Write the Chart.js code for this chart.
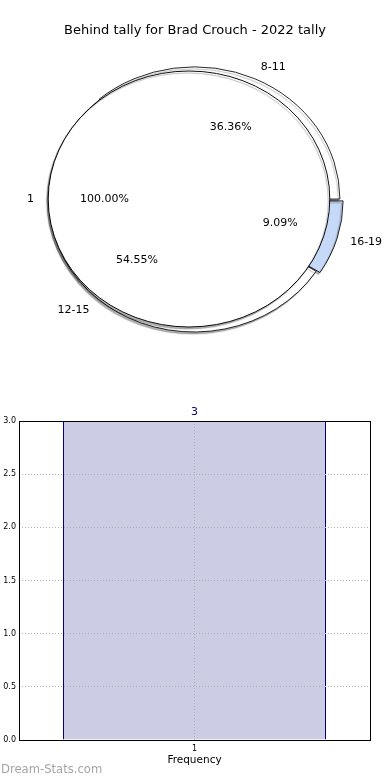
<!DOCTYPE html>
<html>
<head>
<meta charset="utf-8">
<script src="https://cdn.jsdelivr.net/npm/chart.js@4.4.0/dist/chart.umd.min.js"></script>
<style>
  body { margin: 0; background: #fff; width: 390px; height: 780px; position: relative; overflow: hidden; font-family: "DejaVu Sans", sans-serif; }
  #title { position: absolute; left: 0; top: 21px; width: 390px; text-align: center; font-size: 13px; line-height: 18px; color: #000; }
  #pieChart { position: absolute; left: 0; top: 0; }
  #barChart { position: absolute; left: 0; top: 380px; }
  #mark { position: absolute; left: 1px; top: 762px; font-size: 11.6px; color: #a4a4a4; }
</style>
</head>
<body>
<canvas id="pieChart" width="390" height="380"></canvas>
<div id="title"></div>
<canvas id="barChart" width="390" height="400"></canvas>
<div id="mark">Dream-Stats.com</div>
<script>
// data
const titleText = "Behind tally for Brad Crouch - 2022 tally";
const behindLabels = ["1"];
const behindCounts = [3];
const rangeLabels = ["8-11", "12-15", "16-19"];
const rangeCounts = [4, 6, 1];
const yMax = 3;
const yStep = 0.5;

// styles
const rangeColors = ["#ffffff", "#ffffff", "#c6d9f8"];
const rangeExplode = [4, 0, 10];
const outerShift = [5, 1];
const stretchX = 1.1;
const font = "DejaVu Sans";

document.getElementById("title").textContent = titleText;

// chart.js goes clockwise, the original goes the other way
const ringLabels = rangeLabels.slice().reverse();
const ringCounts = rangeCounts.slice().reverse();
const ringColors = rangeColors.slice().reverse();
const ringExplode = rangeExplode.slice().reverse();

const ellipsePie = {
    id: "ellipsePie",
    afterDatasetsUpdate(chart) {
        // outer pie is a full pie under the inner one
        chart.getDatasetMeta(0).data.forEach((arc) => { arc.innerRadius = 0; });
    },
    beforeDatasetsDraw(chart) {
        const ctx = chart.ctx;
        const a = chart.chartArea;
        const cx = (a.left + a.right) / 2, cy = (a.top + a.bottom) / 2;
        ctx.save();
        ctx.translate(cx, cy);
        ctx.scale(stretchX, 1);
        ctx.translate(-cx, -cy);
        ctx.shadowColor = "rgba(0,0,0,0.3)";
        ctx.shadowOffsetX = -1.5;
        ctx.shadowOffsetY = 2;
        ctx.shadowBlur = 1;
    },
    beforeDatasetDraw(chart, args) {
        if (args.index !== 0) return;
        chart.ctx.save();
        chart.ctx.translate(outerShift[0] / stretchX, outerShift[1]);
    },
    afterDatasetDraw(chart, args) {
        if (args.index !== 0) return;
        chart.ctx.restore();
    },
    afterDatasetsDraw(chart) {
        const ctx = chart.ctx;
        // outline of the inner pie, no radial edge for a single full slice
        chart.getDatasetMeta(1).data.forEach((arc) => {
            ctx.beginPath();
            ctx.arc(arc.x, arc.y, arc.outerRadius, 0, Math.PI * 2);
            ctx.lineWidth = 0.9;
            ctx.strokeStyle = "#000";
            ctx.stroke();
        });
        ctx.restore();
    },
    afterDraw(chart) {
        const ctx = chart.ctx;
        ctx.save();
        ctx.fillStyle = "#000";
        ctx.font = "11px '" + font + "'";
        ctx.textBaseline = "middle";
        const sets = [
            { meta: chart.getDatasetMeta(0), labels: ringLabels, shift: ringExplode, move: outerShift },
            { meta: chart.getDatasetMeta(1), labels: behindLabels, shift: behindLabels.map(() => 0), move: [0, 0] }
        ];
        sets.forEach((s) => {
            const total = s.meta.data.reduce((t, arc) => t + arc.circumference, 0);
            s.meta.data.forEach((arc, i) => {
                const mid = (arc.startAngle + arc.endAngle) / 2;
                const cx = arc.x + s.move[0], cy = arc.y + s.move[1];
                const r = arc.outerRadius + s.shift[i] / 4;
                const cos = Math.cos(mid), sin = Math.sin(mid);
                ctx.textAlign = cos >= 0 ? "left" : "right";
                ctx.fillText(s.labels[i], cx + cos * r * 1.1 * stretchX, cy + sin * r * 1.1);
                const pct = (arc.circumference / total * 100).toFixed(2) + "%";
                const rp = arc.outerRadius * 0.6 + s.shift[i] / 4;
                ctx.textAlign = "center";
                ctx.fillText(pct, cx + cos * rp * stretchX, cy + sin * rp);
            });
        });
        ctx.restore();
    }
};

new Chart(document.getElementById("pieChart"), {
    type: "pie",
    data: {
        labels: ringLabels,
        datasets: [{
            data: ringCounts,
            backgroundColor: ringColors,
            borderColor: "#000",
            borderWidth: 0.8,
            offset: ringExplode,
            radius: 132,
            weight: 0,
            order: 1
        }, {
            data: behindCounts,
            backgroundColor: "#ffffff",
            borderWidth: 0,
            radius: 128,
            weight: 1,
            order: 0
        }]
    },
    options: {
        responsive: false,
        animation: false,
        rotation: 90,
        layout: { padding: { top: 66, left: 57, right: 69, bottom: 48 } },
        plugins: {
            legend: { display: false },
            tooltip: { enabled: false }
        }
    },
    plugins: [ellipsePie]
});

const frameAndValue = {
    id: "frameAndValue",
    afterDraw(chart) {
        const ctx = chart.ctx;
        const a = chart.chartArea;
        ctx.save();
        ctx.strokeStyle = "#000";
        ctx.lineWidth = 1;
        ctx.strokeRect(a.left + 0.5, a.top + 0.5, a.right - a.left, a.bottom - a.top);
        ctx.fillStyle = "#000080";
        ctx.font = "11px '" + font + "'";
        ctx.textAlign = "center";
        ctx.textBaseline = "bottom";
        chart.getDatasetMeta(0).data.forEach((bar, i) => {
            ctx.fillText(String(behindCounts[i]), bar.x, bar.y - 3);
        });
        ctx.restore();
    }
};

new Chart(document.getElementById("barChart"), {
    type: "bar",
    data: {
        labels: behindLabels,
        datasets: [{
            data: behindCounts,
            backgroundColor: "#cccce5",
            borderColor: "#000080",
            borderWidth: 1,
            barPercentage: 0.7493,
            categoryPercentage: 1
        }]
    },
    options: {
        responsive: false,
        animation: false,
        layout: { padding: { top: 41, right: 20 } },
        plugins: { legend: { display: false }, tooltip: { enabled: false } },
        scales: {
            x: {
                grid: { offset: false, color: "#b0b0b0", drawTicks: false, z: 1 },
                border: { display: false, dash: [1, 2] },
                ticks: { color: "#000", padding: 4, font: { family: font, size: 8 } },
                title: {
                    display: true,
                    text: "Frequency",
                    color: "#000",
                    font: { family: font, size: 10.5 },
                    padding: { top: 0, bottom: 13.7 }
                },
                afterFit(scale) { scale.height = 40; }
            },
            y: {
                min: 0,
                max: yMax,
                grid: { color: "#b0b0b0", drawTicks: false, z: 1 },
                border: { display: false, dash: [1, 2] },
                ticks: {
                    stepSize: yStep,
                    color: "#000",
                    padding: 3,
                    font: { family: font, size: 8 },
                    callback: (v) => Number(v).toFixed(1)
                },
                afterFit(scale) { scale.width = 19; }
            }
        }
    },
    plugins: [frameAndValue]
});
</script>
</body>
</html>
